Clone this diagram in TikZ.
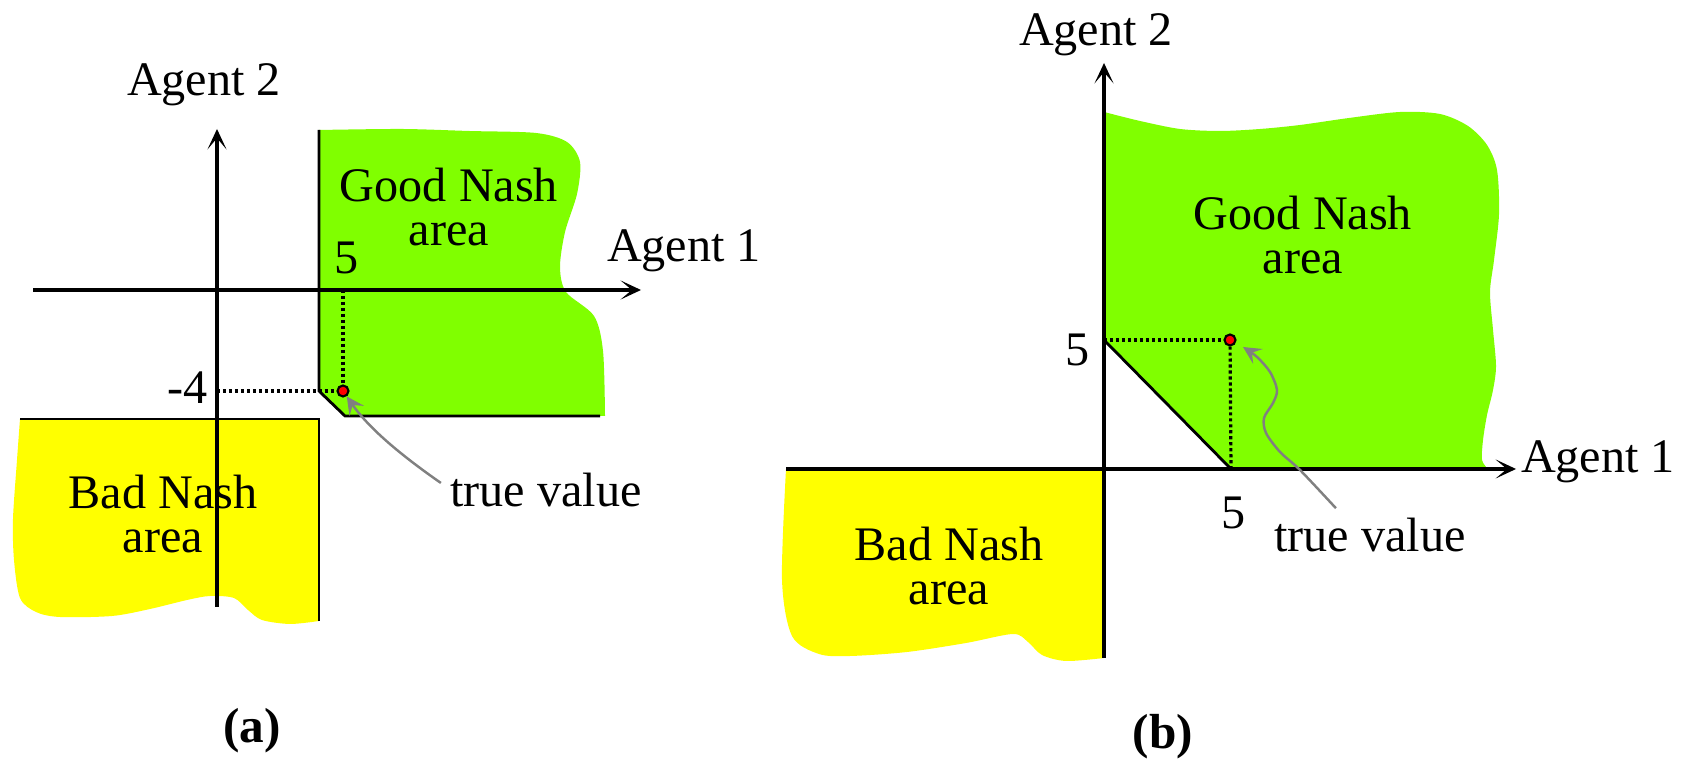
\documentclass[tikz,border=0pt]{standalone}
\usepackage{fontspec}
\setmainfont{Liberation Serif}
\usepackage{xcolor}
\usepackage{tikz}
\usetikzlibrary{arrows.meta, calc}
\definecolor{goodgreen}{RGB}{128,255,0}
\definecolor{badyellow}{RGB}{255,255,0}

\begin{document}
\begin{tikzpicture}[x=0.01cm, y=-0.01cm,
    every node/.style = {inner sep=0pt, font=\fontsize{13.7}{12.6}\selectfont},
    axis/.style       = {line width=1pt, -{Stealth[length=5.8pt,width=5.4pt,inset=3.2pt]}},
    rim/.style        = {line width=0.8pt},
    dots/.style       = {line width=0.9pt, dash pattern=on 0.9pt off 0.8pt},
    tvarrow/.style    = {gray, line width=0.7pt, -{Stealth[length=5pt,width=5pt,inset=2pt]}},
    dotmark/.style    = {circle, draw=black, fill=red, line width=0.6pt, minimum size=0.11cm},
    region/.style     = {align=center},
    caption/.style    = {font=\fontsize{14}{14}\selectfont\bfseries},
  ]
  \useasboundingbox (0,0) rectangle (1683,765);

  % (a)
  \fill[goodgreen] plot[smooth] coordinates {(319,130) (402,129) (469,131) (536,133) (567,142)
    (580,162) (577,194) (565,232) (560,267) (566,292) (594,316) (603,351) (605,416)}
    -- (345,416) -- (319,391) -- cycle;
  \fill[badyellow] (20,419) -- (319,419) -- (319,621) -- plot[smooth] coordinates {(319,621)
    (290,624) (262,620) (248,610) (234,598) (210,596) (187,600) (150,609) (112,616) (60,617)
    (36,612) (20,598) (14,560) (13,519) (17,460) (20,419)} -- cycle;
  \draw[rim] (319,130) -- (319,391) -- (345,416) -- (600,416);
  \draw[rim] (20,419) -- (319,419) -- (319,621);
  \draw[axis] (33,290) -- (641,290);
  \draw[axis] (217,607) -- (217,129);

  \node (ya) at (204,85) {Agent 2};
  \node (xa) at (684,251) {Agent 1};
  \node (fa) at (347,258) {5};
  \node (ma) at (188,388) {-4};
  \node[region] (ga) at (449,207) {Good Nash\\area};
  \node[region] (ba) at (163,514) {Bad Nash\\area};
  \node (tva) at (546,490) {true value};
  \node[dotmark] (pa) at (343,391) {};
  \draw[dots] (217,391) -- (pa);
  \draw[dots] (343,290) -- (pa);
  \draw[tvarrow] ([xshift=-2.5pt,yshift=2pt]tva.west) .. controls (405,458) and (370,430) .. (pa);
  \node[caption] (capa) at (252,731) {(a)};

  % (b)
  \fill[goodgreen] plot[smooth] coordinates {(1104,112) (1140,121) (1180,129) (1220,131)
    (1260,129) (1300,125) (1349,118) (1400,112) (1440,114) (1468,126) (1487,145) (1497,170)
    (1499,214) (1494,260) (1490,292) (1493,330) (1496,366) (1493,390) (1487,415) (1483,440)
    (1482,460) (1488,469)} -- (1231,469) -- (1104,340) -- cycle;
  \fill[badyellow] (786,469) -- (1104,469) -- (1104,658) -- plot[smooth] coordinates {(1104,658)
    (1066,661) (1042,655) (1028,642) (1013,634) (966,643) (907,652) (850,656) (819,654)
    (792,636) (782,580) (786,469)} -- cycle;
  \draw[rim] (1104,340) -- (1231,469);
  \draw[axis] (786,469) -- (1516,469);
  \draw[axis] (1104,658) -- (1104,63);

  \node (yb) at (1096,35) {Agent 2};
  \node (xb) at (1598,462) {Agent 1};
  \node (fyb) at (1078,350) {5};
  \node (fxb) at (1234,513) {5};
  \node[region] (gb) at (1303,235) {Good Nash\\area};
  \node[region] (bb) at (949,566) {Bad Nash\\area};
  \node (tvb) at (1370,535) {true value};
  \node[dotmark] (pb) at (1230,340) {};
  \draw[dots] (1104,340) -- (pb);
  \draw[dots] (pb) -- (1231,469);
  \draw[tvarrow] plot[smooth] coordinates {([xshift=-9.7pt,yshift=2.6pt]tvb.north) (1300,470)
    (1280,452) (1266,433) (1264,418) (1273,403) (1277,390) (1270,372) (1257,357) ($(pb)+(13,7)$)};
  \node[caption] (capb) at (1163,737) {(b)};
\end{tikzpicture}
\end{document}
